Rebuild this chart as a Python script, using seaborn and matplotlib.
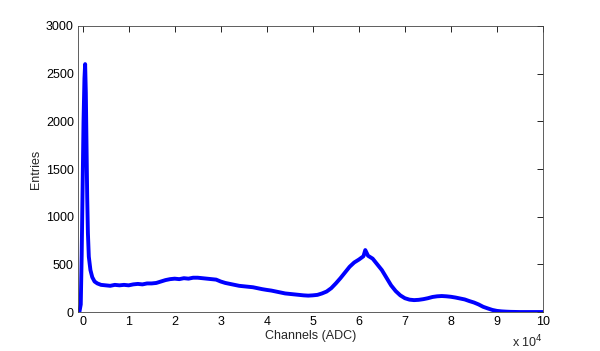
import matplotlib
matplotlib.use("Agg")
import matplotlib.pyplot as plt
import seaborn as sns
import pandas as pd

# Spectrum (channel, entries)
channels = [-1000, -700, -400, -200, 0, 200, 400, 550, 700, 850, 1000, 1150,
            1350, 1700, 2100, 2600, 3200, 4000,
            5000, 6000, 7000, 8000, 9000, 10000, 11000, 12000, 13000, 14000,
            15000, 16000, 17000, 18000, 19000, 20000, 21000, 22000, 23000,
            24000, 25000, 26000, 27000, 28000, 29000, 30000, 31000, 32000,
            33000, 34000, 35000, 36000, 37000, 38000, 39000, 40000, 41000,
            42000, 43000, 44000, 45000, 46000, 47000, 48000, 49000, 50000,
            51000, 52000, 53000, 54000, 55000, 56000, 57000, 58000, 59000,
            60000, 61000, 61400, 62000, 63000, 64000, 65000, 66000, 67000,
            68000, 69000, 70000, 71000, 72000, 73000, 74000, 75000, 76000,
            77000, 78000, 79000, 80000, 81000, 82000, 83000, 84000, 85000,
            86000, 87000, 88000, 89000, 90000, 91000, 92000, 93000, 94000,
            95000, 100000]
entries = [0, 0, 80, 600, 1300, 2000, 2450, 2600, 2300, 1750, 1200, 830,
           580, 440, 365, 320, 300, 285,
           280, 275, 285, 280, 285, 280, 290, 295, 290, 300,
           300, 305, 320, 335, 345, 350, 345, 355, 350,
           360, 360, 355, 350, 345, 340, 320, 305, 295,
           285, 275, 270, 265, 260, 250, 240, 232, 225,
           215, 205, 195, 190, 185, 180, 175, 172, 175,
           180, 195, 215, 250, 300, 355, 415, 475, 520,
           550, 585, 650, 590, 560, 500, 440, 360, 280,
           220, 175, 145, 130, 125, 128, 135, 145, 158,
           165, 168, 165, 160, 152, 142, 132, 115, 100,
           80, 55, 38, 22, 12, 7, 4, 2, 1,
           0, 0]

xtick_values = [0, 10000, 20000, 30000, 40000, 50000, 60000, 70000, 80000, 90000, 100000]
xtick_labels = ["0", "1", "2", "3", "4", "5", "6", "7", "8", "9", "10"]
ytick_values = [0, 500, 1000, 1500, 2000, 2500, 3000]

sns.set_style("white")
plt.rcParams['font.family'] = ['Liberation Sans', 'DejaVu Sans']

df = pd.DataFrame({"Channel": channels, "Entries": entries})

fig = plt.figure(figsize=(6.0, 3.51), dpi=100)
ax = fig.add_axes([0.13, 0.111, 0.775, 0.815])
sns.lineplot(data=df, x="Channel", y="Entries", ax=ax, color="#0000ff",
             linewidth=2.8)

ax.set_xlim(-1000, 100000)
ax.set_ylim(0, 3000)
ax.set_xticks(xtick_values)
ax.set_xticklabels(xtick_labels)
ax.set_yticks(ytick_values)
ax.tick_params(direction="in", top=True, right=True, length=4, width=0.6,
               labelsize=9, colors="black", pad=3)
for s in ax.spines.values():
    s.set_color("#444444")
    s.set_linewidth(0.6)
ax.set_xlabel("Channels (ADC)", fontsize=9, labelpad=1)
ax.set_ylabel("Entries", fontsize=9)
ax.yaxis.set_label_coords(-0.077, 0.5)
fig.text(0.905, 0.011, "x 10$^{4}$", fontsize=9, ha="right", va="baseline")

fig.savefig("out.png", dpi=100)
